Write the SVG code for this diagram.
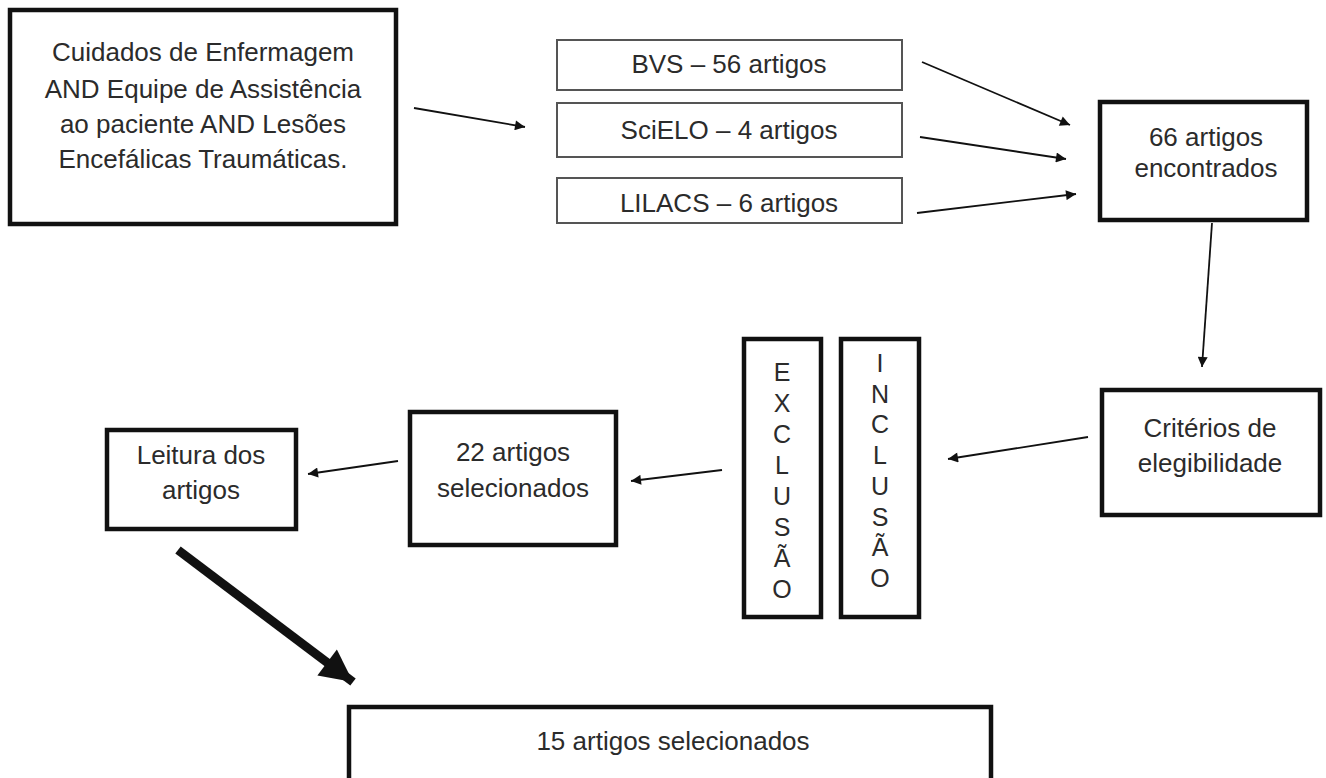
<svg xmlns="http://www.w3.org/2000/svg" width="1326" height="778" viewBox="0 0 1326 778">
<style>
.box{fill:#fff;stroke:#111;stroke-width:4.5}
.thin{fill:#fff;stroke:#555;stroke-width:2}
text{font-family:"Liberation Sans",Arial,sans-serif;font-size:26px;fill:#2b2b2b;text-anchor:middle}
.v{font-size:25px}
.c{stroke:#111;stroke-width:1.8;fill:none}
</style>
<defs>
<marker id="ah" viewBox="0 0 10 10" refX="10" refY="5" markerWidth="14" markerHeight="10" markerUnits="userSpaceOnUse" orient="auto">
<path d="M0,0 L10,5 L0,10 z" fill="#111"/>
</marker>
<marker id="ahb" viewBox="0 0 10 10" refX="10" refY="5" markerWidth="4" markerHeight="3.6" orient="auto">
<path d="M0,0 L10,5 L0,10 z" fill="#111"/>
</marker>
</defs>
<rect width="1326" height="778" fill="#fff"/>

<g id="connectors">
<line class="c" x1="414" y1="108" x2="525" y2="127" marker-end="url(#ah)"/>
<line class="c" x1="922" y1="62" x2="1070" y2="125" marker-end="url(#ah)"/>
<line class="c" x1="920" y1="137" x2="1066" y2="159" marker-end="url(#ah)"/>
<line class="c" x1="917" y1="213" x2="1076" y2="194" marker-end="url(#ah)"/>
<line class="c" x1="1212" y1="223" x2="1202" y2="367" marker-end="url(#ah)"/>
<line class="c" x1="1088" y1="437" x2="948" y2="459" marker-end="url(#ah)"/>
<line class="c" x1="722" y1="470" x2="631" y2="481" marker-end="url(#ah)"/>
<line class="c" x1="398" y1="461" x2="308" y2="474" marker-end="url(#ah)"/>
<line x1="178" y1="550" x2="353" y2="682" stroke="#111" stroke-width="9" marker-end="url(#ahb)"/>
</g>

<g id="n-busca">
<rect class="box" x="10" y="10" width="386" height="214"/>
<text x="203" y="61">Cuidados de Enfermagem</text>
<text x="203" y="98">AND Equipe de Assistência</text>
<text x="203" y="133">ao paciente AND Lesões</text>
<text x="203" y="168">Encefálicas Traumáticas.</text>
</g>

<g id="n-bvs">
<rect class="thin" x="557" y="40" width="345" height="50"/>
<text x="729" y="73">BVS – 56 artigos</text>
</g>
<g id="n-scielo">
<rect class="thin" x="557" y="103" width="345" height="54"/>
<text x="729" y="139">SciELO – 4 artigos</text>
</g>
<g id="n-lilacs">
<rect class="thin" x="557" y="178" width="345" height="45"/>
<text x="729" y="212">LILACS – 6 artigos</text>
</g>

<g id="n-66">
<rect class="box" x="1100" y="102" width="207" height="118"/>
<text x="1206" y="146">66 artigos</text>
<text x="1206" y="177">encontrados</text>
</g>

<g id="n-criterios">
<rect class="box" x="1102" y="390" width="218" height="125"/>
<text x="1210" y="437">Critérios de</text>
<text x="1210" y="472">elegibilidade</text>
</g>

<g id="n-exclusao">
<rect class="box" x="744" y="339" width="77" height="278"/>
<text class="v" x="782" y="381">E</text>
<text class="v" x="782" y="412">X</text>
<text class="v" x="782" y="443">C</text>
<text class="v" x="782" y="474">L</text>
<text class="v" x="782" y="505">U</text>
<text class="v" x="782" y="536">S</text>
<text class="v" x="782" y="567">Ã</text>
<text class="v" x="782" y="598">O</text>
</g>

<g id="n-inclusao">
<rect class="box" x="841" y="339" width="78" height="278"/>
<text class="v" x="880" y="372">I</text>
<text class="v" x="880" y="403">N</text>
<text class="v" x="880" y="433">C</text>
<text class="v" x="880" y="464">L</text>
<text class="v" x="880" y="495">U</text>
<text class="v" x="880" y="526">S</text>
<text class="v" x="880" y="556">Ã</text>
<text class="v" x="880" y="587">O</text>
</g>

<g id="n-22">
<rect class="box" x="410" y="412" width="206" height="133"/>
<text x="513" y="461">22 artigos</text>
<text x="513" y="497">selecionados</text>
</g>

<g id="n-leitura">
<rect class="box" x="107" y="430" width="189" height="99"/>
<text x="201" y="464">Leitura dos</text>
<text x="201" y="499">artigos</text>
</g>

<g id="n-15">
<rect class="box" x="349" y="707" width="642" height="80"/>
<text x="673" y="750">15 artigos selecionados</text>
</g>
</svg>
